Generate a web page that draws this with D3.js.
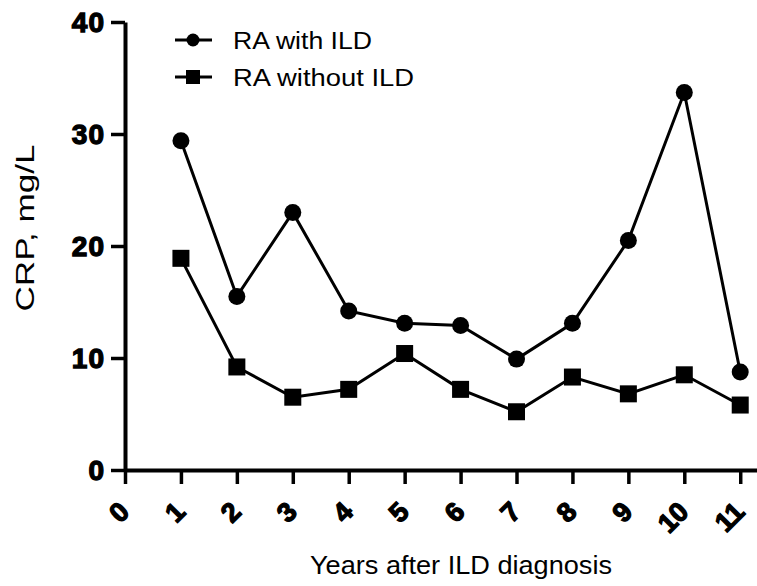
<!DOCTYPE html>
<html>
<head>
<meta charset="utf-8">
<script src="https://cdn.jsdelivr.net/npm/d3@7"></script>
<style>
html,body{margin:0;padding:0;background:#fff;}
svg{display:block;font-family:"Liberation Sans",Arial,sans-serif;}
</style>
</head>
<body>
<svg id="chart" width="757" height="586"></svg>
<script>
const years = [1,2,3,4,5,6,7,8,9,10,11];
const withILD = [29.4,15.5,23.0,14.2,13.1,12.9,9.9,13.1,20.5,33.7,8.75];
const withoutILD = [18.9,9.2,6.5,7.2,10.4,7.2,5.2,8.3,6.8,8.5,5.8];
const xTicks = [0,1,2,3,4,5,6,7,8,9,10,11];
const yTicks = [0,10,20,30,40];
const seriesNames = ["RA with ILD","RA without ILD"];
const FONT = '"Liberation Sans", Arial, sans-serif';

const svg = d3.select("#chart");
const x = d3.scaleLinear().domain([0,11.3]).range([125,757]);
const y = d3.scaleLinear().domain([0,40]).range([470,22]);

// axes
const xAxis = svg.append("g").attr("transform","translate(0,470)")
  .call(d3.axisBottom(x).tickValues(xTicks).tickSize(14).tickSizeOuter(0).tickFormat(""))
  .attr("font-family",FONT);
xAxis.select(".domain").attr("stroke","#000").attr("stroke-width",4);
xAxis.selectAll(".tick line").attr("stroke","#000").attr("stroke-width",3.5);
xAxis.selectAll(".tick").append("text")
  .attr("fill","#000").attr("stroke","#000").attr("stroke-width",1.3)
  .attr("font-family",FONT).attr("font-weight","bold").attr("font-size",27)
  .attr("text-anchor","end").attr("dominant-baseline","central")
  .attr("transform","translate(-1,37) rotate(-45)")
  .text(d=>d);

const yAxis = svg.append("g").attr("transform","translate(125,0)")
  .call(d3.axisLeft(y).tickValues(yTicks).tickSize(14).tickSizeOuter(0).tickFormat(""))
  .attr("font-family",FONT);
yAxis.select(".domain").attr("stroke","#000").attr("stroke-width",4);
yAxis.selectAll(".tick line").attr("stroke","#000").attr("stroke-width",3.5);
yAxis.selectAll(".tick").append("text")
  .attr("fill","#000").attr("stroke","#000").attr("stroke-width",1.3)
  .attr("font-family",FONT).attr("font-weight","bold").attr("font-size",28)
  .attr("text-anchor","end").attr("dominant-baseline","central")
  .attr("x",-20).attr("y",0).attr("letter-spacing",1)
  .text(d=>d);

// lines
const line = d3.line().x((d,i)=>x(years[i])).y(d=>y(d));
svg.append("path").datum(withILD).attr("d",line)
  .attr("fill","none").attr("stroke","#000").attr("stroke-width",3);
svg.append("path").datum(withoutILD).attr("d",line)
  .attr("fill","none").attr("stroke","#000").attr("stroke-width",3);

svg.append("g").selectAll("circle").data(withILD).join("circle")
  .attr("cx",(d,i)=>x(years[i])).attr("cy",d=>y(d)).attr("r",8.5).attr("fill","#000");
svg.append("g").selectAll("rect").data(withoutILD).join("rect")
  .attr("x",(d,i)=>x(years[i])-8.5).attr("y",d=>y(d)-8.5)
  .attr("width",17).attr("height",17).attr("fill","#000");

// legend
const lg = svg.append("g");
const legY = [40,77];
legY.forEach((ly,k)=>{
  lg.append("line").attr("x1",175).attr("x2",212).attr("y1",ly).attr("y2",ly)
    .attr("stroke","#000").attr("stroke-width",3);
  if(k===0) lg.append("circle").attr("cx",193).attr("cy",ly).attr("r",6.5).attr("fill","#000");
  else lg.append("rect").attr("x",186).attr("y",ly-7).attr("width",14).attr("height",14).attr("fill","#000");
  lg.append("text").attr("x",233).attr("y",ly+8.5).attr("font-size",23).attr("fill","#000")
    .attr("textLength",k===0?139:181).attr("lengthAdjust","spacingAndGlyphs")
    .text(seriesNames[k]);
});

// titles
svg.append("text").attr("x",461).attr("y",574).attr("text-anchor","middle")
  .attr("font-size",25).attr("fill","#000")
  .attr("textLength",302).attr("lengthAdjust","spacingAndGlyphs")
  .text("Years after ILD diagnosis");
svg.append("text").attr("transform","translate(34,228) rotate(-90)")
  .attr("text-anchor","middle").attr("font-size",26).attr("fill","#000")
  .attr("textLength",167).attr("lengthAdjust","spacingAndGlyphs")
  .text("CRP,  mg/L");
</script>
</body>
</html>
